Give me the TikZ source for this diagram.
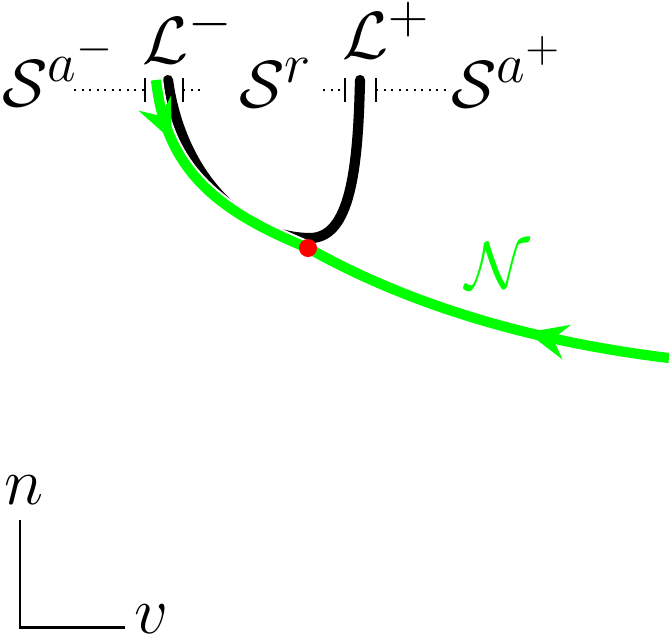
\documentclass[tikz,border=0pt]{standalone}
\usepackage{amsmath}
\usepackage{amsfonts}
\usetikzlibrary{arrows.meta,decorations.markings}

\tikzset{
	branch/.style = {line width=3.8pt, line cap=round},
	flow/.style = {line width=3.8pt, green,
		preaction = {draw=white, line width=5.4pt},
		decoration = {markings, mark=at position #1 with {\arrow{Stealth[length=15pt,width=13pt,inset=5pt]}}},
		postaction = decorate},
	fence/.style = {line width=0.8pt, dotted},
	fencetick/.style = {line width=1pt},
	lbl/.style = {font=\Huge, inner sep=0pt, anchor=base west}
}

\begin{document}
\begin{tikzpicture}[x=0.0131cm, y=-0.0131cm]
		\useasboundingbox (0,0) rectangle (669,638);
		% labels of the slow manifolds and lines
		\node[lbl] (Sam) at (2,106) {$\mathcal{S}^{a^-}$};
		\node[lbl] (Lm) at (142,63) {$\mathcal{L}^-$};
		\node[lbl] (Sr) at (239,107) {$\mathcal{S}^r$};
		\node[lbl] (Lp) at (342,58) {$\mathcal{L}^+$};
		\node[lbl] (Sap) at (451,107) {$\mathcal{S}^{a^+}$};
		\node[lbl, green] (N) at (465,288) {$\mathcal{N}$};
		% fence points
		\coordinate (f1) at (74,90);
		\coordinate (t1) at (145,90);
		\coordinate (t2) at (183,90);
		\coordinate (f2) at (203,90);
		\coordinate (f3) at (323,90);
		\coordinate (t3) at (345,90);
		\coordinate (t4) at (376,90);
		\coordinate (f4) at (447,90);
		\draw[fence] (f1) -- (t1);
		\draw[fence] (t2) -- (f2);
		\draw[fence] (f3) -- (t3);
		\draw[fence] (t4) -- (f4);
		\foreach \t in {t1,t2,t3,t4}
			\draw[fencetick] (\t) ++(0,-12) -- ++(0,24);
		% black branch
		\coordinate (bl) at (168,80);
		\coordinate (bm) at (310,238);
		\coordinate (br) at (360,80);
		\draw[branch] (bl) .. controls (180,170) and (240,238) .. (bm)
			.. controls (350,238) and (358,170) .. (br);
		% green orbit
		\coordinate (gr) at (669,358);
		\coordinate (gt) at (156,80);
		\coordinate (P) at (308,248);
		\draw[flow=0.38] (gr) .. controls (520,340) and (400,300) .. (P);
		\draw[flow=0.26] (gt) .. controls (166,172) and (220,212) .. (P);
		\node[circle, fill=red, inner sep=0pt, minimum size=18*0.0131cm] (eq) at (P) {};
		% axes
		\coordinate (O) at (20,627);
		\coordinate (nEnd) at (20,520);
		\coordinate (vEnd) at (125,627);
		\draw[line width=1.1pt] (nEnd) -- (O) -- (vEnd);
		\node[lbl] (n) at (4,504) {$n$};
		\node[lbl] (v) at (134,633) {$v$};
	\end{tikzpicture}
\end{document}
